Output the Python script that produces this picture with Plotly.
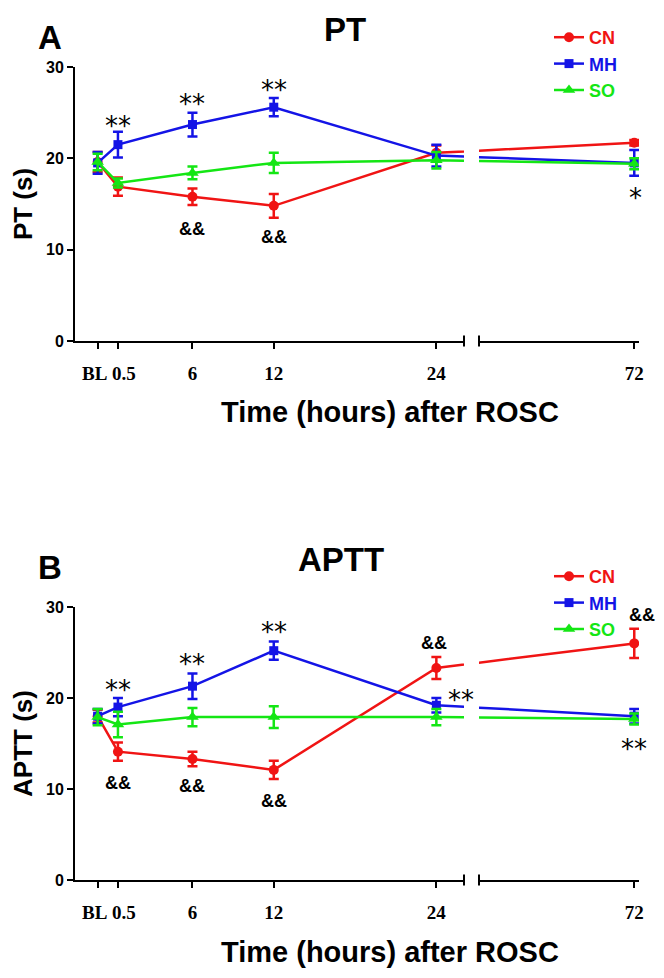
import plotly.graph_objects as go

# time points; 72 h sits after the axis break
time_labels = ["BL", "0.5", "6", "12", "24", "72"]
time_pos = [-1, 0.5, 6, 12, 24, 38.6]

group_names = ["CN", "MH", "SO"]
group_colors = ["#f01414", "#1414e6", "#14e614"]
group_symbols = ["circle", "square", "triangle-up"]
marker_sizes = [10, 9, 11]

# PT (s), mean and error
pt_cn = [19.6, 16.9, 15.8, 14.8, 20.6, 21.7]
pt_cn_err = [1.1, 1.0, 0.9, 1.3, 0.8, 0.3]
pt_mh = [19.5, 21.5, 23.7, 25.6, 20.3, 19.5]
pt_mh_err = [1.2, 1.4, 1.3, 1.0, 1.2, 1.4]
pt_so = [19.6, 17.3, 18.4, 19.5, 19.8, 19.4]
pt_so_err = [0.9, 0.5, 0.7, 1.1, 0.9, 0.6]

# APTT (s), mean and error
aptt_cn = [18.0, 14.1, 13.3, 12.1, 23.3, 26.0]
aptt_cn_err = [0.7, 1.0, 0.8, 1.0, 1.2, 1.6]
aptt_mh = [18.0, 19.0, 21.3, 25.2, 19.2, 18.0]
aptt_mh_err = [0.8, 1.0, 1.4, 1.0, 0.8, 0.8]
aptt_so = [17.9, 17.1, 17.9, 17.9, 17.9, 17.7]
aptt_so_err = [0.9, 1.4, 1.0, 1.2, 0.9, 0.6]

# significance marks: (time index, text, y position of the mark, x shift px)
pt_marks = [(1, "**", 24.3, 0), (2, "**", 26.7, 0), (3, "**", 28.3, 0),
            (2, "&&", 12.3, 0), (3, "&&", 11.4, 0), (5, "*", 16.4, 1)]
aptt_marks = [(1, "**", 21.6, 0), (2, "**", 24.5, 0), (3, "**", 28.0, 0),
              (4, "**", 20.5, 25), (5, "**", 15.2, 0),
              (1, "&&", 10.7, 0), (2, "&&", 10.3, 0), (3, "&&", 8.7, 0),
              (4, "&&", 26.0, -2), (5, "&&", 29.1, 8)]

# page body adds an 8px margin, so lay things out 8px up/left
OFF = 8
W, H = 664 - OFF, 978 - OFF


def px(p):
    return (p - OFF) / W


def py(p):
    return 1 - (p - OFF) / H


XL = [px(75), px(464)]
XR = [px(479), px(639)]
YA = [py(341), py(67)]
YB = [py(880), py(607)]
left_range = [-2.67, 26.04]
right_range = [27.14, 38.95]

sans = "Liberation Sans, Arial, sans-serif"
serif = "Liberation Serif, Times New Roman, serif"

fig = go.Figure()


def add_panel(means, errs, xl, xr, ya, legend):
    for name, color, symbol, msize, m, e in zip(group_names, group_colors, group_symbols,
                                                marker_sizes, means, errs):
        for xa in (xl, xr):
            fig.add_trace(go.Scatter(
                x=time_pos, y=m,
                error_y=dict(type="data", array=e, color=color, thickness=2.5, width=5),
                mode="lines+markers",
                line=dict(color=color, width=2.5),
                marker=dict(symbol=symbol, size=msize, color=color),
                name=f"<span style='color:{color}'>{name}</span>",
                legend=legend,
                showlegend=(xa == xl),
                xaxis=xa, yaxis=ya,
            ))


add_panel([pt_cn, pt_mh, pt_so], [pt_cn_err, pt_mh_err, pt_so_err], "x", "x2", "y", "legend")
add_panel([aptt_cn, aptt_mh, aptt_so], [aptt_cn_err, aptt_mh_err, aptt_so_err], "x3", "x4", "y2", "legend2")

tick_font = dict(family=serif, size=19, color="black", weight="bold")
xcommon = dict(showline=True, linecolor="black", linewidth=2, ticks="outside", ticklen=6,
               tickwidth=2, tickcolor="black", showgrid=False, zeroline=False,
               automargin=False, tickangle=0, tickfont=tick_font, ticklabelstandoff=8)
ycommon = dict(showline=True, linecolor="black", linewidth=2, ticks="outside", ticklen=6,
               tickwidth=2, tickcolor="black", showgrid=False, zeroline=False, range=[0, 30],
               tickvals=[0, 10, 20, 30], automargin=False,
               tickfont=dict(family=sans, size=16, color="black", weight="bold"))

# BL and 0.5 sit too close for axis labels; they are written as annotations below
left_text = ["", ""] + time_labels[2:5]

legend_common = dict(x=px(549), xanchor="left", yanchor="top",
                     font=dict(family=sans, size=18, weight="bold"), itemwidth=30,
                     bgcolor="rgba(0,0,0,0)", tracegroupgap=0)

fig.update_layout(
    width=W, height=H,
    margin=dict(l=0, r=0, t=0, b=0),
    paper_bgcolor="white", plot_bgcolor="white",
    xaxis=dict(xcommon, domain=XL, range=left_range, anchor="y",
               tickvals=time_pos[:5], ticktext=left_text),
    xaxis2=dict(xcommon, domain=XR, range=right_range, anchor="y",
                tickvals=time_pos[5:], ticktext=time_labels[5:]),
    xaxis3=dict(xcommon, domain=XL, range=left_range, anchor="y2",
                tickvals=time_pos[:5], ticktext=left_text),
    xaxis4=dict(xcommon, domain=XR, range=right_range, anchor="y2",
                tickvals=time_pos[5:], ticktext=time_labels[5:]),
    yaxis=dict(ycommon, domain=YA, anchor="x",
               title=dict(text="PT (s)", standoff=10,
                          font=dict(family=sans, size=26, color="black", weight="bold"))),
    yaxis2=dict(ycommon, domain=YB, anchor="x3",
                title=dict(text="APTT (s)", standoff=10,
                           font=dict(family=sans, size=26, color="black", weight="bold"))),
    legend=dict(legend_common, y=py(19)),
    legend2=dict(legend_common, y=py(558)),
)

# axis break caps
for xa, ya, side in [("x", "y", 1), ("x2", "y", 0), ("x3", "y2", 1), ("x4", "y2", 0)]:
    fig.add_shape(type="line", xref=f"{xa} domain", yref=f"{ya} domain",
                  x0=side, x1=side, y0=-0.02, y1=0.02, line=dict(color="black", width=2))

annos = []
# panel letters and titles
for txt, x, y, anchor in [("A", 50, 37, "middle"), ("PT", 345, 9, "top"),
                          ("B", 50, 567, "middle"), ("APTT", 341, 559, "middle")]:
    annos.append(dict(text=txt, x=px(x), y=py(y), xref="paper", yref="paper",
                      xanchor="center", yanchor=anchor, showarrow=False,
                      font=dict(family=sans, size=33, color="black", weight="bold")))
# x titles
for y in (412, 952):
    annos.append(dict(text="Time (hours) after ROSC", x=px(219), y=py(y), xref="paper",
                      yref="paper", xanchor="left", yanchor="middle", showarrow=False,
                      font=dict(family=sans, size=29, color="black", weight="bold")))

# BL / 0.5 tick labels
for xa, ya in (("x", "y"), ("x3", "y2")):
    for idx, shift in ((0, -3), (1, 6)):
        annos.append(dict(text=time_labels[idx], x=time_pos[idx], y=0, xref=xa, yref=ya,
                          xanchor="center", yanchor="middle", xshift=shift, yshift=-32,
                          showarrow=False, font=tick_font))


def add_marks(marks, xl, xr, ya):
    for idx, txt, yv, xs in marks:
        star = "*" in txt
        annos.append(dict(
            text=txt, x=time_pos[idx], y=yv, xref=xr if idx == 5 else xl, yref=ya,
            xanchor="center", yanchor="middle",
            showarrow=False, xshift=xs, yshift=-7 if star else 0,
            font=dict(family="DejaVu Sans" if star else sans, size=26 if star else 18,
                      color="black", weight="normal" if star else "bold")))


add_marks(pt_marks, "x", "x2", "y")
add_marks(aptt_marks, "x3", "x4", "y2")
fig.update_layout(annotations=annos)

fig.write_html("out.html")
